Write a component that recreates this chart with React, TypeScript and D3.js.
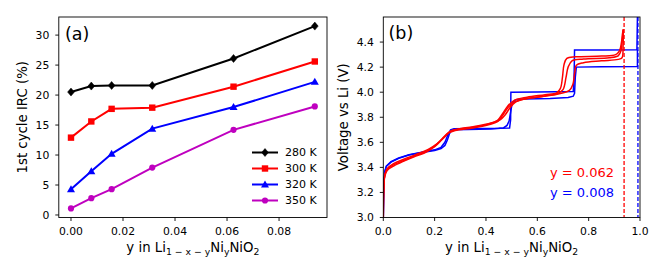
import React from "react";
import * as d3 from "d3";

// ---------- Panel (a) data ----------
const yFrac = [0, 0.0078125, 0.015625, 0.03125, 0.0625, 0.09375];
const irc280 = [20.5, 21.5, 21.6, 21.6, 26.1, 31.5];
const irc300 = [12.9, 15.6, 17.7, 17.9, 21.4, 25.6];
const irc320 = [4.3, 7.3, 10.2, 14.4, 18.0, 22.2];
const irc350 = [1.1, 2.8, 4.3, 7.9, 14.2, 18.1];
const seriesLabels = ["280 K", "300 K", "320 K", "350 K"];
const xTicksA = [0, 0.02, 0.04, 0.06, 0.08];
const yTicksA = [0, 5, 10, 15, 20, 25, 30];

// ---------- Panel (b) data: [x, V] ----------
const blueCharge: [number, number][] = [
  [0, 3.0], [0.002, 3.25], [0.005, 3.36], [0.012, 3.41], [0.03, 3.445], [0.06, 3.475],
  [0.1, 3.5], [0.15, 3.52], [0.2, 3.54], [0.225, 3.56], [0.24, 3.6], [0.252, 3.66],
  [0.262, 3.7], [0.275, 3.708], [0.35, 3.71], [0.45, 3.712], [0.492, 3.715],
  [0.496, 3.78], [0.497, 4.0], [0.6, 4.002], [0.74, 4.005], [0.743, 4.1],
  [0.745, 4.336], [0.85, 4.337], [0.988, 4.338], [0.99, 4.6],
];
const blueDischarge: [number, number][] = [
  [0.99, 4.338], [0.99, 4.204], [0.85, 4.203], [0.752, 4.2], [0.748, 4.12],
  [0.745, 3.99], [0.74, 3.968], [0.72, 3.958], [0.65, 3.95], [0.55, 3.945],
  [0.515, 3.94], [0.502, 3.91], [0.496, 3.84], [0.49, 3.77], [0.482, 3.735],
  [0.468, 3.715], [0.42, 3.706], [0.33, 3.702], [0.268, 3.7], [0.258, 3.67],
  [0.25, 3.62], [0.24, 3.575], [0.225, 3.55], [0.2, 3.535], [0.15, 3.518],
  [0.1, 3.498], [0.06, 3.472], [0.03, 3.442], [0.012, 3.41], [0.005, 3.36],
  [0.002, 3.25], [0, 3.0],
];
const redCharge1: [number, number][] = [
  [0, 3.0], [0.002, 3.25], [0.006, 3.34], [0.015, 3.385], [0.04, 3.42], [0.08, 3.455],
  [0.12, 3.49], [0.16, 3.52], [0.2, 3.57], [0.23, 3.63], [0.255, 3.68], [0.28, 3.7],
  [0.35, 3.72], [0.41, 3.745], [0.445, 3.775], [0.465, 3.83], [0.485, 3.89],
  [0.51, 3.935], [0.56, 3.96], [0.63, 3.98], [0.675, 3.995], [0.69, 4.03],
  [0.698, 4.12], [0.704, 4.22], [0.715, 4.27], [0.75, 4.282], [0.85, 4.288],
  [0.905, 4.3], [0.92, 4.33], [0.928, 4.4], [0.932, 4.47], [0.935, 4.5],
];
const redCharge2: [number, number][] = [
  [0, 3.0], [0.002, 3.24], [0.006, 3.33], [0.015, 3.375], [0.04, 3.41], [0.08, 3.45],
  [0.12, 3.485], [0.16, 3.515], [0.2, 3.565], [0.23, 3.625], [0.255, 3.675], [0.28, 3.695],
  [0.35, 3.715], [0.41, 3.74], [0.445, 3.765], [0.465, 3.815], [0.485, 3.875],
  [0.51, 3.92], [0.56, 3.95], [0.63, 3.97], [0.68, 3.99], [0.7, 4.02],
  [0.712, 4.12], [0.72, 4.2], [0.735, 4.25], [0.78, 4.265], [0.88, 4.275],
  [0.915, 4.29], [0.926, 4.33], [0.931, 4.42], [0.935, 4.5],
];
const redDischarge: [number, number][] = [
  [0.935, 4.5], [0.934, 4.36], [0.93, 4.275], [0.915, 4.262], [0.85, 4.25],
  [0.78, 4.235], [0.752, 4.215], [0.746, 4.16], [0.738, 4.06], [0.725, 4.015],
  [0.69, 3.99], [0.62, 3.965], [0.55, 3.945], [0.515, 3.92], [0.495, 3.88],
  [0.475, 3.82], [0.455, 3.78], [0.42, 3.755], [0.35, 3.725], [0.29, 3.705],
  [0.262, 3.69], [0.24, 3.645], [0.21, 3.59], [0.18, 3.55], [0.13, 3.505],
  [0.08, 3.465], [0.04, 3.43], [0.015, 3.39], [0.006, 3.34], [0.002, 3.25], [0, 3.0],
];
const yRed = 0.062;
const yBlue = 0.008;
const xTicksB = [0, 0.2, 0.4, 0.6, 0.8, 1.0];
const yTicksB = [3.0, 3.2, 3.4, 3.6, 3.8, 4.0, 4.2, 4.4];

const FONT = "DejaVu Sans, sans-serif";
const TICK_FS = 10.8;
const LABEL_FS = 13.3;

function Marker({ kind, x, y, color }: { kind: string; x: number; y: number; color: string }) {
  if (kind === "D") {
    const r = 4;
    return <polygon points={`${x},${y - r} ${x + r * 0.85},${y} ${x},${y + r} ${x - r * 0.85},${y}`} fill={color} stroke={color} strokeWidth={0.5} />;
  }
  if (kind === "s") {
    const r = 3.2;
    return <rect x={x - r} y={y - r} width={2 * r} height={2 * r} fill={color} />;
  }
  if (kind === "^") {
    const r = 4;
    return <polygon points={`${x},${y - r} ${x + r},${y + r * 0.75} ${x - r},${y + r * 0.75}`} fill={color} />;
  }
  return <circle cx={x} cy={y} r={3.1} fill={color} />;
}

function XLabel({ x, y }: { x: number; y: number }) {
  const sub = LABEL_FS * 0.7;
  return (
    <text x={x} y={y} textAnchor="middle" fontFamily={FONT} fontSize={LABEL_FS} fill="#000">
      <tspan>y in Li</tspan>
      <tspan fontSize={sub} dy={3}>1 − x − y</tspan>
      <tspan dy={-3}>Ni</tspan>
      <tspan fontSize={sub} dy={3}>y</tspan>
      <tspan dy={-3}>NiO</tspan>
      <tspan fontSize={sub} dy={3}>2</tspan>
    </text>
  );
}

export default function App() {
  const W = 664, H = 277;
  // panel a
  const ax = { l: 58.8, r: 327, t: 17, b: 217.5 };
  const xa = d3.scaleLinear().domain([-0.0046875, 0.0984375]).range([ax.l, ax.r]);
  const ya = d3.scaleLinear().domain([-0.42, 33.02]).range([ax.b, ax.t]);
  const series = [
    { v: irc280, c: "#000000", m: "D" },
    { v: irc300, c: "#ff0000", m: "s" },
    { v: irc320, c: "#0000ff", m: "^" },
    { v: irc350, c: "#bf00bf", m: "o" },
  ];
  const lineA = d3.line<number>().x((_, i) => xa(yFrac[i])).y((d) => ya(d));

  // panel b
  const bx = { l: 383.3, r: 640, t: 17, b: 217.5 };
  const xb = d3.scaleLinear().domain([0, 1]).range([bx.l, bx.r]);
  const yb = d3.scaleLinear().domain([3.0, 4.6]).range([bx.b, bx.t]);
  const lineLin = d3.line<[number, number]>().x((d) => xb(d[0])).y((d) => yb(d[1]));
  const lineSmooth = d3
    .line<[number, number]>()
    .x((d) => xb(d[0]))
    .y((d) => yb(d[1]))
    .curve(d3.curveCatmullRom.alpha(0.5));

  const fmt2 = d3.format(".2f");
  const fmt1 = d3.format(".1f");
  const TICK_Y = 17.5;
  const TICK_X = 9.5;

  return (
    <svg width={W} height={H} style={{ position: "absolute", left: 0, top: 0, background: "#fff" }}>
      <defs>
        <clipPath id="clipB">
          <rect x={bx.l} y={bx.t} width={bx.r - bx.l} height={bx.b - bx.t} />
        </clipPath>
      </defs>
      <rect x={0} y={0} width={W} height={H} fill="#fff" />

      {/* ---------- Panel (a) ---------- */}
      {series.map((s, si) => (
        <g key={si}>
          <path d={lineA(s.v) || ""} fill="none" stroke={s.c} strokeWidth={2} />
          {s.v.map((v, i) => (
            <Marker key={i} kind={s.m} x={xa(yFrac[i])} y={ya(v)} color={s.c} />
          ))}
        </g>
      ))}
      <rect x={ax.l} y={ax.t} width={ax.r - ax.l} height={ax.b - ax.t} fill="none" stroke="#000" strokeWidth={0.9} />
      {xTicksA.map((t) => (
        <g key={t}>
          <line x1={xa(t)} x2={xa(t)} y1={ax.b} y2={ax.b + 3.5} stroke="#000" strokeWidth={0.9} />
          <text x={xa(t)} y={ax.b + TICK_Y} textAnchor="middle" fontFamily={FONT} fontSize={TICK_FS}>{fmt2(t)}</text>
        </g>
      ))}
      {yTicksA.map((t) => (
        <g key={t}>
          <line x1={ax.l - 3.5} x2={ax.l} y1={ya(t)} y2={ya(t)} stroke="#000" strokeWidth={0.9} />
          <text x={ax.l - TICK_X} y={ya(t)} dy="0.36em" textAnchor="end" fontFamily={FONT} fontSize={TICK_FS}>{t}</text>
        </g>
      ))}
      <text x={65} y={39.5} fontFamily={FONT} fontSize={17.5}>(a)</text>
      <text transform={`translate(22.5,${(ax.t + ax.b) / 2}) rotate(-90)`} textAnchor="middle" dy="0.36em" fontFamily={FONT} fontSize={LABEL_FS}>1st cycle IRC (%)</text>
      <XLabel x={(ax.l + ax.r) / 2} y={252} />
      {/* legend */}
      {series.map((s, i) => {
        const cy = 152.5 + i * 16;
        return (
          <g key={i}>
            <line x1={252} x2={278} y1={cy} y2={cy} stroke={s.c} strokeWidth={2} />
            <Marker kind={s.m} x={265} y={cy} color={s.c} />
            <text x={285} y={cy} dy="0.36em" fontFamily={FONT} fontSize={11}>{seriesLabels[i]}</text>
          </g>
        );
      })}

      {/* ---------- Panel (b) ---------- */}
      <g clipPath="url(#clipB)">
        <path d={lineLin(blueCharge) || ""} fill="none" stroke="#0000ff" strokeWidth={1.5} />
        <path d={lineLin(blueDischarge) || ""} fill="none" stroke="#0000ff" strokeWidth={1.5} />
        <path d={lineSmooth(redCharge1) || ""} fill="none" stroke="#ff0000" strokeWidth={1.5} />
        <path d={lineSmooth(redCharge2) || ""} fill="none" stroke="#ff0000" strokeWidth={1.5} />
        <path d={lineSmooth(redDischarge) || ""} fill="none" stroke="#ff0000" strokeWidth={1.5} />
        <line x1={xb(1 - yRed)} x2={xb(1 - yRed)} y1={bx.t} y2={bx.b} stroke="#ff0000" strokeWidth={1.3} strokeDasharray="4,2" />
        <line x1={xb(1 - yBlue)} x2={xb(1 - yBlue)} y1={bx.t} y2={bx.b} stroke="#0000ff" strokeWidth={1.3} strokeDasharray="4,2" />
      </g>
      <rect x={bx.l} y={bx.t} width={bx.r - bx.l} height={bx.b - bx.t} fill="none" stroke="#000" strokeWidth={0.9} />
      {xTicksB.map((t) => (
        <g key={t}>
          <line x1={xb(t)} x2={xb(t)} y1={bx.b} y2={bx.b + 3.5} stroke="#000" strokeWidth={0.9} />
          <text x={xb(t)} y={bx.b + TICK_Y} textAnchor="middle" fontFamily={FONT} fontSize={TICK_FS}>{fmt1(t)}</text>
        </g>
      ))}
      {yTicksB.map((t) => (
        <g key={t}>
          <line x1={bx.l - 3.5} x2={bx.l} y1={yb(t)} y2={yb(t)} stroke="#000" strokeWidth={0.9} />
          <text x={bx.l - TICK_X} y={yb(t)} dy="0.36em" textAnchor="end" fontFamily={FONT} fontSize={TICK_FS}>{fmt1(t)}</text>
        </g>
      ))}
      <text x={388.5} y={38.5} fontFamily={FONT} fontSize={17.5}>(b)</text>
      <text transform={`translate(343,${(bx.t + bx.b) / 2}) rotate(-90)`} textAnchor="middle" dy="0.36em" fontFamily={FONT} fontSize={LABEL_FS}>Voltage vs Li (V)</text>
      <XLabel x={(bx.l + bx.r) / 2} y={252} />
      <text x={614} y={177} textAnchor="end" fontFamily={FONT} fontSize={13} fill="#ff0000">y = {yRed.toFixed(3)}</text>
      <text x={614} y={197} textAnchor="end" fontFamily={FONT} fontSize={13} fill="#0000ff">y = {yBlue.toFixed(3)}</text>
    </svg>
  );
}
